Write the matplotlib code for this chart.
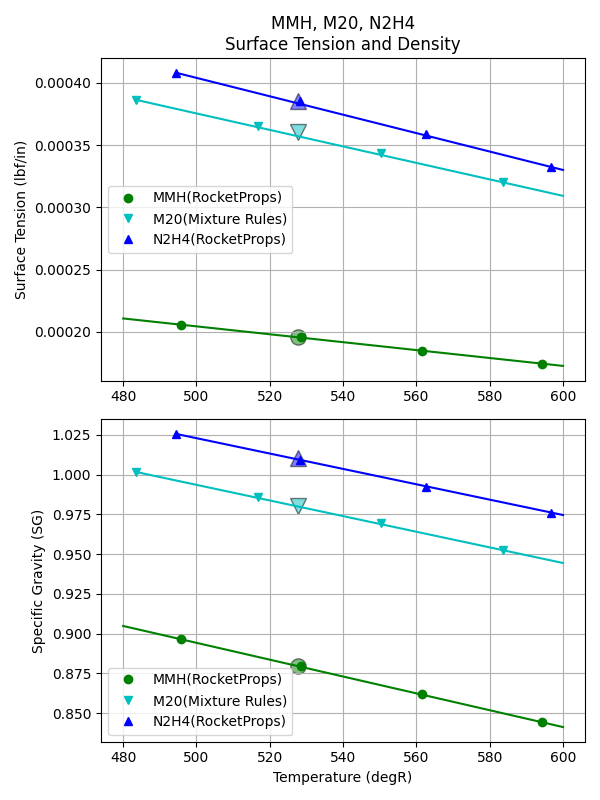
import matplotlib.pyplot as plt

# nominal temperature for the big markers
t_nom = 527.67

# line end points (temperature range of each curve)
mmh_line_t = [480.0, 600.0]
m20_line_t = [483.5, 600.0]
n2h4_line_t = [494.5, 600.0]

# surface tension lines (lbf/in)
mmh_line_st = [0.0002108, 0.0001727]
m20_line_st = [0.0003863, 0.0003092]
n2h4_line_st = [0.000408, 0.00033]

# density lines (SG)
mmh_line_sg = [0.9048, 0.8412]
m20_line_sg = [1.0017, 0.9444]
n2h4_line_sg = [1.0256, 0.9746]

# marker points
mmh_t = [495.8, 528.5, 561.5, 594.3]
m20_t = [483.5, 516.8, 550.4, 583.6]
n2h4_t = [494.5, 528.3, 562.6, 596.7]

mmh_st = [0.0002056, 0.000196, 0.0001847, 0.0001743]
m20_st = [0.0003863, 0.0003655, 0.0003438, 0.0003205]
n2h4_st = [0.000408, 0.0003855, 0.000359, 0.0003325]

mmh_sg = [0.8966, 0.8796, 0.862, 0.8443]
m20_sg = [1.0017, 0.986, 0.9696, 0.9526]
n2h4_sg = [1.0256, 1.0093, 0.9923, 0.9759]

# values at nominal temperature
nom_st = [0.000196, 0.0003606, 0.0003855]
nom_sg = [0.8796, 0.9803, 1.0103]

fig, ax = plt.subplots(2, figsize=(6, 8), dpi=100)

def draw(a, lines, pts, nom):
    names = ['MMH(RocketProps)', 'M20(Mixture Rules)', 'N2H4(RocketProps)']
    colors = ['g', 'c', 'b']
    marks = ['o', 'v', '^']
    tl = [mmh_line_t, m20_line_t, n2h4_line_t]
    tp = [mmh_t, m20_t, n2h4_t]
    for i in range(3):
        a.plot(tp[i], pts[i], marks[i], color=colors[i], label=names[i], zorder=3)
        a.plot(tl[i], lines[i], '-', color=colors[i], zorder=2)
        a.plot([t_nom], [nom[i]], marks[i], color=colors[i], markersize=11,
               alpha=0.5, markeredgecolor='k', zorder=1.5)
    a.grid(True)

draw(ax[0], [mmh_line_st, m20_line_st, n2h4_line_st],
     [mmh_st, m20_st, n2h4_st], nom_st)
ax[0].set_title('MMH, M20, N2H4\nSurface Tension and Density')
ax[0].set_ylabel('Surface Tension (lbf/in)')
ax[0].legend(loc='center left')

draw(ax[1], [mmh_line_sg, m20_line_sg, n2h4_line_sg],
     [mmh_sg, m20_sg, n2h4_sg], nom_sg)
ax[1].set_ylabel('Specific Gravity (SG)')
ax[1].set_xlabel('Temperature (degR)')
ax[1].legend(loc='lower left')

fig.tight_layout()
plt.savefig('out.png')
